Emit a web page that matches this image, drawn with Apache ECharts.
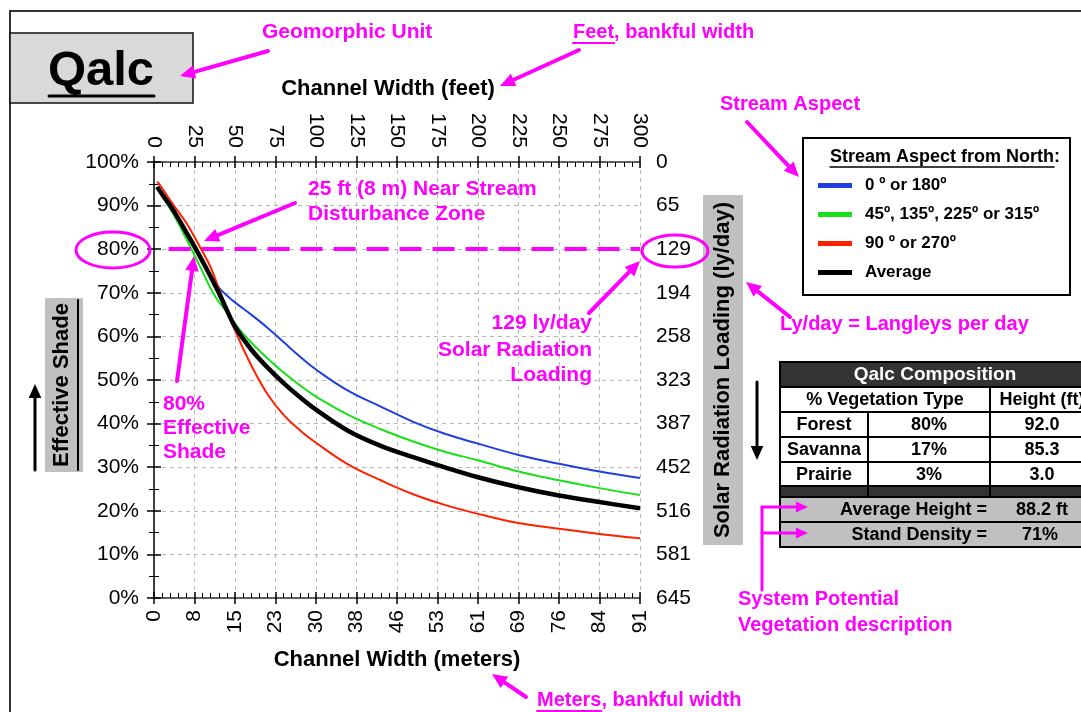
<!DOCTYPE html>
<html><head><meta charset="utf-8">
<script src="https://cdn.jsdelivr.net/npm/echarts@6/dist/echarts.min.js"></script>
<style>html,body{margin:0;padding:0;background:#fff}#c{width:1081px;height:712px}</style>
</head><body><div id="c"></div>
<script>
// ---- data ----
const widthFeet   = [2,5,10,15,20,25,30,35,40,45,50,60,70,80,90,100,120,140,160,180,200,225,250,275,300];
const shadeNS     = [94.3,92.3,89.6,86.8,83.5,80.3,77.0,74.0,71.2,69.4,67.8,65.0,62.0,58.7,55.4,52.4,47.5,43.9,40.4,37.6,35.4,32.8,30.8,29.0,27.5];
const shadeDiag   = [94.2,92.2,89.3,86.0,82.3,78.6,74.8,71.0,67.9,65.6,62.9,58.6,55.0,51.7,48.8,46.2,42.0,38.7,35.9,33.5,31.6,29.0,27.0,25.2,23.6];
const shadeEW     = [95.5,94.0,91.2,88.6,86.0,82.8,79.4,75.8,71.0,66.3,61.4,53.4,46.8,42.0,38.5,35.6,30.6,27.0,23.8,21.3,19.3,17.2,15.9,14.7,13.7];
const shadeAvg    = [94.3,92.6,90.0,87.0,83.8,80.6,77.2,73.7,70.0,66.0,62.2,57.0,52.9,49.3,46.1,43.2,38.3,34.9,32.3,29.9,27.7,25.4,23.5,22.0,20.6];
const seriesNames = ['0 º or 180º','45º, 135º, 225º or 315º','90 º or 270º','Average'];
const seriesColors = ['#1f3fe0','#18e018','#ff2000','#000000'];
const meterLabels = ['0','8','15','23','30','38','46','53','61','69','76','84','91'];
const loadingLabels = ['0','65','129','194','258','323','387','452','516','581','645'];
const targetShade = 80;
const vegTypes = ['Forest','Savanna','Prairie'];
const vegPct = ['80%','17%','3%'];
const vegHeight = ['92.0','85.3','3.0'];
const avgHeight = '88.2 ft';
const standDensity = '71%';

const FF = '"Liberation Sans", Arial, sans-serif';
const M = '#ff00ff';
const mctx = document.createElement('canvas').getContext('2d');
function tw(t, size, weight){ mctx.font = (weight||'bold') + ' ' + size + 'px ' + FF; return mctx.measureText(t).width; }

function txt(x, y, text, o){
  o = o || {};
  const align = o.align || 'left', va = o.va || 'middle';
  return {type:'text', x:x, y:y, rotation:o.rot||0, z:100,
    style:{text:text, fill:o.fill||M, font:(o.weight||'bold')+' '+(o.size||21)+'px '+FF,
      align:align, verticalAlign:va, textAlign:align, textVerticalAlign:va}};
}
function ln(x1,y1,x2,y2,color,w){
  return {type:'line', z:100, shape:{x1:x1,y1:y1,x2:x2,y2:y2}, style:{stroke:color||M, lineWidth:w||3, lineCap:'round'}};
}
function arrow(x1,y1,x2,y2,color,w,head){
  color = color||M; w = w||4; head = head||15;
  const a = Math.atan2(y2-y1, x2-x1);
  const bx = x2 - head*Math.cos(a), by = y2 - head*Math.sin(a);
  const px = -Math.sin(a)*head*0.45, py = Math.cos(a)*head*0.45;
  return [ln(x1,y1,bx,by,color,w),
    {type:'polygon', z:100, shape:{points:[[x2,y2],[bx+px,by+py],[bx-px,by-py]]}, style:{fill:color}}];
}
function rect(x,y,w,h,fill,stroke,lw){
  return {type:'rect', z:90, shape:{x:x,y:y,width:w,height:h}, style:{fill:fill||'none', stroke:stroke||null, lineWidth:lw||0}};
}

const g = [];
// outer frame
g.push(rect(10,11,1100,720,'none','#333',2));
// Qalc box
g.push(rect(10,33,183,70,'#d9d9d9','#111',1.5));
g.push(txt(101,71,'Qalc',{fill:'#000',size:49,align:'center'}));
g.push(ln(49,96,154,96,'#000',3));
// annotations (magenta)
g.push(txt(262,32,'Geomorphic Unit',{size:21}));
g.push(...arrow(268,51,180,76));
const wFeet = tw('Feet',20);
g.push(txt(573,32,'Feet',{size:20}), txt(573+wFeet,32,', bankful width',{size:20}), ln(573,43,573+wFeet,43,M,2));
g.push(...arrow(579,50,500,86));
g.push(txt(720,104,'Stream Aspect',{size:20}));
g.push(...arrow(747,122,799,177));
g.push(txt(308,189,'25 ft (8 m) Near Stream'), txt(308,214,'Disturbance Zone'));
g.push(...arrow(295,203,204,241));
g.push(txt(163,404,'80%'), txt(163,428,'Effective'), txt(163,452,'Shade'));
g.push(...arrow(177,381,194,256));
g.push(txt(592,323,'129 ly/day',{align:'right'}), txt(592,350,'Solar Radiation',{align:'right'}), txt(592,375,'Loading',{align:'right'}));
g.push(...arrow(589,313,640,261));
g.push({type:'ellipse', z:100, shape:{cx:113,cy:250,rx:37,ry:18}, style:{fill:'none',stroke:M,lineWidth:3}});
g.push({type:'ellipse', z:100, shape:{cx:675,cy:251,rx:33,ry:16}, style:{fill:'none',stroke:M,lineWidth:3}});
g.push(txt(780,324,'Ly/day = Langleys per day',{size:20}));
g.push(...arrow(790,317,746,282));
g.push(ln(762,507,762,590,M,3));
g.push(...arrow(762,507,808,507,M,3,12));
g.push(...arrow(762,533,808,533,M,3,12));
g.push(txt(738,599,'System Potential',{size:20}), txt(738,625,'Vegetation description',{size:20}));
const wMeters = tw('Meters',20);
g.push(txt(537,700,'Meters',{size:20}), txt(537+wMeters,700,', bankful width',{size:20}), ln(537,711,537+wMeters,711,M,2));
g.push(...arrow(526,697,492,674));
// axis titles for the y axes
g.push(rect(45,298,38,174,'#c0c0c0'));
g.push(txt(62,385,'Effective Shade',{fill:'#000',size:22,align:'center',rot:Math.PI/2}));
g.push(ln(78,300,78,470,'#000',2));
g.push(...arrow(35,470,35,384,'#000',3,14));
g.push(rect(703,195,40,350,'#c0c0c0'));
g.push(txt(723,370,'Solar Radiation Loading (ly/day)',{fill:'#000',size:22,align:'center',rot:Math.PI/2}));
g.push(...arrow(757,382,757,460,'#000',3,14));
// legend box + title
g.push(rect(803,138,267,157,'none','#000',2));
const legTitle = 'Stream Aspect from North';
const wLT = tw(legTitle,18);
g.push(txt(830,157,legTitle,{fill:'#000',size:18}), txt(830+wLT,157,':',{fill:'#000',size:18}), ln(830,167,830+wLT,167,'#000',1.5));
// composition table
const c0=780,c1=868,c2=990,c3=1100;
g.push(rect(c0,362,c3-c0,25,'#333','#000',2));
g.push(txt(935,375,'Qalc Composition',{fill:'#fff',size:19,align:'center'}));
g.push(rect(c0,387,c2-c0,25,'#fff','#000',2), rect(c2,387,c3-c2,25,'#fff','#000',2));
g.push(txt(885,400,'% Vegetation Type',{fill:'#000',size:18,align:'center'}), txt(1042,400,'Height (ft)',{fill:'#000',size:18,align:'center'}));
const rowY=[412,437,462];
rowY.forEach(function(y,i){
  const h = i===2?24:25;
  g.push(rect(c0,y,c1-c0,h,'#fff','#000',2), rect(c1,y,c2-c1,h,'#fff','#000',2), rect(c2,y,c3-c2,h,'#fff','#000',2));
  g.push(txt((c0+c1)/2,y+h/2+1,vegTypes[i],{fill:'#000',size:18,align:'center'}));
  g.push(txt((c1+c2)/2,y+h/2+1,vegPct[i],{fill:'#000',size:18,align:'center'}));
  g.push(txt(1042,y+h/2+1,vegHeight[i],{fill:'#000',size:18,align:'center'}));
});
g.push(rect(c0,486,c1-c0,11,'#333','#000',2), rect(c1,486,c2-c1,11,'#333','#000',2), rect(c2,486,c3-c2,11,'#333','#000',2));
g.push(rect(c0,497,c3-c0,25,'#c0c0c0','#000',2), rect(c0,522,c3-c0,25,'#c0c0c0','#000',2));
g.push(txt(987,510,'Average Height =',{fill:'#000',size:18,align:'right'}), txt(1042,510,avgHeight,{fill:'#000',size:18,align:'center'}));
g.push(txt(987,535,'Stand Density =',{fill:'#000',size:18,align:'right'}), txt(1040,535,standDensity,{fill:'#000',size:18,align:'center'}));

const allShade = [shadeNS, shadeDiag, shadeEW, shadeAvg];
const series = allShade.map(function(arr, i){
  const s = {
    name: seriesNames[i], type:'line', xAxisIndex:0, yAxisIndex:0,
    data: widthFeet.map(function(f,j){ return [f, arr[j]]; }),
    showSymbol:false, symbol:'none', smooth:0.4, color: seriesColors[i],
    lineStyle:{color:seriesColors[i], width: i===3?4.5:2},
    itemStyle:{color:seriesColors[i]}, z: 3+i, silent:true, animation:false
  };
  if (i===0) {
    s.markLine = {symbol:'none', silent:true, animation:false, label:{show:false},
      lineStyle:{color:M, type:[22,11], width:4},
      data:[[{coord:[9,targetShade]},{coord:[300,targetShade]}]]};
  }
  return s;
});

const tickFont = {fontSize:21, color:'#000', fontFamily:FF};
const axisLineS = {show:true, lineStyle:{color:'#333', width:1.5}};
const chart = echarts.init(document.getElementById('c'), null, {renderer:'canvas'});
chart.setOption({
  animation:false,
  backgroundColor:'#fff',
  grid:{left:154, right:441, top:162, bottom:114, containLabel:false, outerBoundsMode:'none'},
  legend:{data:seriesNames, orient:'vertical', left:813, top:172, itemWidth:34, itemHeight:5, itemGap:12,
    icon:'rect', selectedMode:false,
    textStyle:{fontSize:17, fontWeight:'bold', color:'#000', fontFamily:FF, padding:[0,0,0,8]}},
  xAxis:[
    {type:'value', position:'bottom', min:0, max:300, interval:25,
     name:'Channel Width (meters)', nameLocation:'middle', nameGap:51, nameMoveOverlap:false,
     nameTextStyle:{fontSize:22, fontWeight:'bold', color:'#000', fontFamily:FF},
     axisLine:axisLineS, axisTick:{show:true, inside:false, length:6, lineStyle:{color:'#000', width:1.5}},
     axisLabel:Object.assign({rotate:90, margin:12, formatter:function(v){return meterLabels[Math.round(v/25)];}}, tickFont),
     splitLine:{show:true, lineStyle:{type:[4,4], color:'#b8b8b8', width:1}}},
    {type:'value', position:'top', min:0, max:300, interval:25,
     name:'Channel Width (feet)', nameLocation:'middle', nameGap:62, nameMoveOverlap:false,
     nameTextStyle:{fontSize:22, fontWeight:'bold', color:'#000', fontFamily:FF, padding:[0,18,0,0]},
     axisLine:axisLineS, axisTick:{show:true, inside:false, length:6, lineStyle:{color:'#000', width:1.5}},
     axisLabel:Object.assign({rotate:-90, margin:14}, tickFont),
     splitLine:{show:false}},
    {type:'value', position:'bottom', min:0, max:300, interval:25, axisLine:{show:false}, axisLabel:{show:false},
     axisTick:{show:true, inside:true, length:6, lineStyle:{color:'#000', width:1.5}},
     minorTick:{show:true, splitNumber:5, length:5, lineStyle:{color:'#000', width:1}}, splitLine:{show:false}},
    {type:'value', position:'top', min:0, max:300, interval:25, axisLine:{show:false}, axisLabel:{show:false},
     axisTick:{show:true, inside:true, length:6, lineStyle:{color:'#000', width:1.5}},
     minorTick:{show:true, splitNumber:5, length:5, lineStyle:{color:'#000', width:1}}, splitLine:{show:false}}
  ],
  yAxis:[
    {type:'value', position:'left', min:0, max:100, interval:10,
     axisLine:axisLineS, axisTick:{show:true, inside:false, length:7, lineStyle:{color:'#000', width:1.5}},
     minorTick:{show:true, splitNumber:2, length:5, lineStyle:{color:'#000', width:1}},
     axisLabel:Object.assign({margin:15, formatter:'{value}%'}, tickFont),
     splitLine:{show:true, lineStyle:{type:[4,4], color:'#b8b8b8', width:1}}},
    {type:'value', position:'right', min:0, max:645, interval:64.5, inverse:true,
     axisLine:axisLineS, axisTick:{show:true, inside:false, length:7, lineStyle:{color:'#000', width:1.5}},
     minorTick:{show:true, splitNumber:2, length:5, lineStyle:{color:'#000', width:1}},
     axisLabel:Object.assign({margin:16, formatter:function(v){return loadingLabels[Math.round(v/64.5)];}}, tickFont),
     splitLine:{show:false}}
  ],
  series: series,
  graphic: g
});
</script></body></html>
